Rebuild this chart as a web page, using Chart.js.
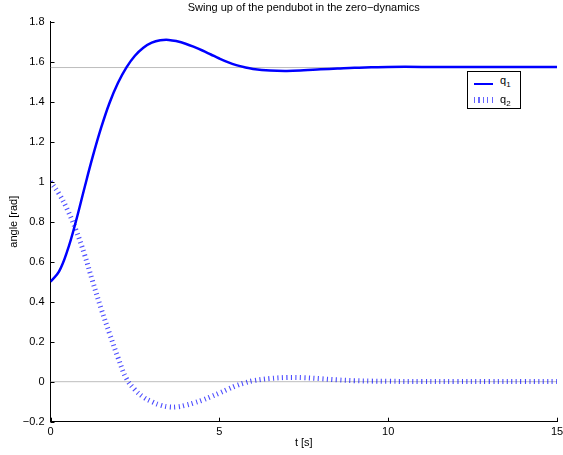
<!DOCTYPE html>
<html>
<head>
<meta charset="utf-8">
<script src="https://cdn.jsdelivr.net/npm/chart.js@4/dist/chart.umd.min.js"></script>
<style>
  html, body { margin: 0; padding: 0; background: #fff; }
  #wrap { position: relative; width: 563px; height: 455px; }
  #legend {
    position: absolute; left: 467px; top: 71px; width: 52px; height: 36px;
    border: 1px solid #000; background: #fff;
    font-family: "Liberation Sans", Arial, sans-serif; font-size: 11px; color: #000;
  }
  .row { position: absolute; left: 0; height: 14px; width: 52px; }
  .row .sample { position: absolute; left: 6px; width: 19px; }
  .row .lbl { position: absolute; left: 32px; top: 0; line-height: 12px; }
  .row sub { font-size: 8px; vertical-align: -3px; }
  #s1 { top: 9px; height: 0; border-top: 2.5px solid #0000ff; }
  #s2 { top: 4px; height: 6px;
        background: repeating-linear-gradient(90deg, rgba(0,0,255,0.6) 0 1px, transparent 1px 4.5px); }
</style>
</head>
<body>
<div id="wrap">
  <canvas id="chart" width="563" height="455"></canvas>
  <div id="legend">
    <div class="row" style="top:2px"><span class="sample" id="s1"></span><span class="lbl">q<sub>1</sub></span></div>
    <div class="row" style="top:21px"><span class="sample" id="s2"></span><span class="lbl">q<sub>2</sub></span></div>
  </div>
</div>
<script>
// Swing up of the pendubot: joint angles over time

const times = [0, 0.25, 0.5, 0.75, 1, 1.25, 1.5, 1.75, 2, 2.25, 2.5, 2.75, 3, 3.25, 3.5, 3.75,
  4, 4.25, 4.5, 4.75, 5, 5.25, 5.5, 5.75, 6, 6.5, 7, 7.5, 8, 8.5, 9, 9.5, 10, 11, 12, 13, 14, 15];

const q1 = [0.50, 0.55, 0.655, 0.80, 0.965, 1.125, 1.27, 1.395, 1.495, 1.572, 1.63, 1.67, 1.695, 1.707,
  1.709, 1.702, 1.690, 1.674, 1.656, 1.636, 1.616, 1.598, 1.583, 1.572, 1.564, 1.556, 1.554, 1.557,
  1.562, 1.566, 1.570, 1.572, 1.574, 1.574, 1.574, 1.574, 1.574, 1.574];

const q2 = [1.00, 0.94, 0.86, 0.76, 0.64, 0.50, 0.365, 0.24, 0.12, 0.015, -0.04, -0.077, -0.10, -0.117,
  -0.126, -0.126, -0.118, -0.106, -0.092, -0.075, -0.057, -0.038, -0.02, -0.006, 0.005, 0.016, 0.021,
  0.02, 0.015, 0.009, 0.005, 0.003, 0.002, 0.001, 0.001, 0.001, 0.001, 0.001];

// reference levels (pi/2 and 0)
const refLevels = [Math.PI / 2, 0];
const xRange = [0, 15];

const xTicks = [0, 5, 10, 15];
const yTicks = [-0.2, 0, 0.2, 0.4, 0.6, 0.8, 1, 1.2, 1.4, 1.6, 1.8];

const FONT = '"Liberation Sans", Arial, sans-serif';

const toPoints = (xs, ys) => xs.map((x, i) => ({ x: x, y: ys[i] }));
const fmt = v => String(Math.round(v * 10) / 10).replace('-', '\u2212');

// inward tick marks + title drawn against the chart area
const decor = {
  id: 'decor',
  afterDraw(chart) {
    const ctx = chart.ctx;
    const { left, right, top, bottom } = chart.chartArea;
    const xs = chart.scales.x, ys = chart.scales.y;
    ctx.save();
    ctx.strokeStyle = '#000';
    ctx.lineWidth = 1;
    ctx.beginPath();
    yTicks.forEach(v => {
      const p = Math.round(ys.getPixelForValue(v)) + 0.5;
      ctx.moveTo(left, p); ctx.lineTo(left + 4, p);
    });
    xTicks.forEach(v => {
      const p = Math.round(xs.getPixelForValue(v)) + 0.5;
      ctx.moveTo(p, bottom); ctx.lineTo(p, bottom - 4);
    });
    ctx.stroke();
    ctx.fillStyle = '#000';
    ctx.font = '11px ' + FONT;
    ctx.textAlign = 'center';
    ctx.textBaseline = 'middle';
    ctx.fillText('Swing up of the pendubot in the zero\u2212dynamics', (left + right) / 2, 8);
    ctx.restore();
  }
};

new Chart(document.getElementById('chart'), {
  type: 'line',
  data: {
    datasets: [
      {
        label: 'q1',
        data: toPoints(times, q1),
        borderColor: '#0000ff',
        borderWidth: 2.5,
        pointRadius: 0,
        tension: 0.4,
        order: 1
      },
      {
        label: 'q2',
        data: toPoints(times, q2),
        borderColor: 'rgba(0, 0, 255, 0.7)',
        borderWidth: 5,
        borderDash: [1.1, 3.4],
        borderCapStyle: 'butt',
        pointRadius: 0,
        tension: 0.4,
        order: 2
      },
      ...refLevels.map(level => ({
        label: 'ref',
        data: toPoints(xRange, [level, level]),
        borderColor: '#bdbdbd',
        borderWidth: 1,
        pointRadius: 0,
        order: 3
      }))
    ]
  },
  options: {
    responsive: false,
    animation: false,
    layout: { padding: { top: 21.7, right: 6, bottom: 0, left: 0 } },
    plugins: {
      legend: { display: false },
      tooltip: { enabled: false },
      title: { display: false }
    },
    scales: {
      x: {
        type: 'linear',
        min: 0,
        max: 15,
        afterBuildTicks: s => { s.ticks = xTicks.map(v => ({ value: v })); },
        afterFit: s => { s.height = 33.3; s.paddingLeft = 0; s.paddingRight = 0; },
        grid: { drawOnChartArea: false, drawTicks: false },
        border: { display: true, color: '#000', width: 1 },
        ticks: {
          color: '#000',
          padding: 4,
          maxRotation: 0,
          font: { family: FONT, size: 11 },
          callback: v => fmt(v)
        },
        title: {
          display: true,
          text: 't [s]',
          color: '#000',
          font: { family: FONT, size: 11 },
          padding: { top: 0, bottom: 5 }
        }
      },
      y: {
        type: 'linear',
        min: -0.2,
        max: 1.8,
        afterBuildTicks: s => { s.ticks = yTicks.map(v => ({ value: v })); },
        afterFit: s => { s.width = 50.5; s.paddingTop = 0; s.paddingBottom = 0; },
        grid: { drawOnChartArea: false, drawTicks: false },
        border: { display: true, color: '#000', width: 1 },
        ticks: {
          color: '#000',
          padding: 6,
          font: { family: FONT, size: 11 },
          callback: v => fmt(v)
        },
        title: {
          display: true,
          text: 'angle [rad]',
          color: '#000',
          font: { family: FONT, size: 11 },
          padding: { top: 7.4, bottom: 0 }
        }
      }
    }
  },
  plugins: [decor]
});
</script>
</body>
</html>
